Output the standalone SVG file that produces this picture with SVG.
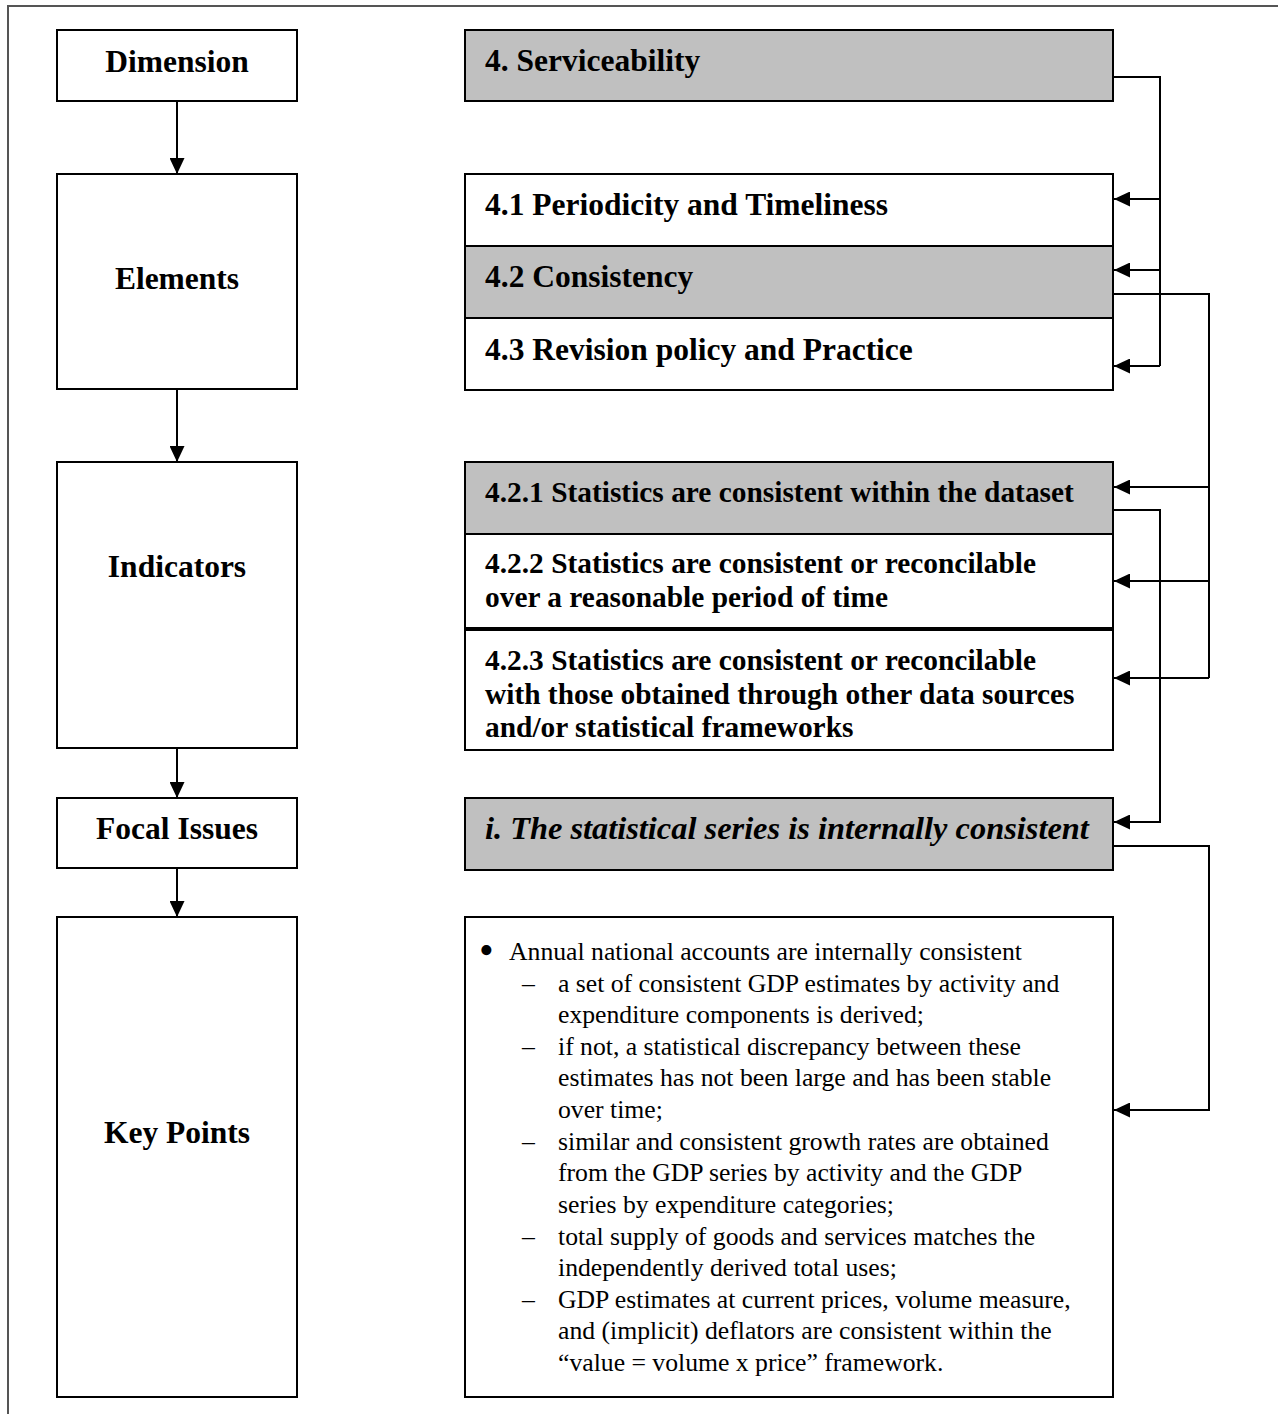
<svg xmlns="http://www.w3.org/2000/svg" width="1278" height="1414" viewBox="0 0 1278 1414">
<defs>
<style>
.box{fill:#fff;stroke:#000;stroke-width:2}
.gray{fill:#c0c0c0;stroke:#000;stroke-width:2}
.lbl{font-family:"Liberation Serif","Times New Roman",serif;font-weight:bold;font-size:31.5px;fill:#000;text-anchor:middle}
.t1{font-family:"Liberation Serif","Times New Roman",serif;font-weight:bold;font-size:31.5px;fill:#000}
.t2{font-family:"Liberation Serif","Times New Roman",serif;font-weight:bold;font-size:29.4px;fill:#000}
.ti{font-family:"Liberation Serif","Times New Roman",serif;font-weight:bold;font-style:italic;font-size:32.4px;fill:#000}
.kp{font-family:"Liberation Serif","Times New Roman",serif;font-size:25.7px;fill:#000}
.conn{fill:none;stroke:#000;stroke-width:2}
.frame{fill:none;stroke:#555;stroke-width:2}
</style>
<marker id="ah" markerWidth="16" markerHeight="15" refX="16" refY="7.5" orient="auto" markerUnits="userSpaceOnUse">
<path d="M0,0 L16,7.5 L0,15 z" fill="#000"/>
</marker>
</defs>
<rect width="1278" height="1414" fill="#fff"/>
<path class="frame" d="M8,1414 V6 H1278"/>

<g id="dimension"><rect class="box" x="57" y="30" width="240" height="71"/><text class="lbl" x="177" y="72">Dimension</text></g>
<g id="elements"><rect class="box" x="57" y="174" width="240" height="215"/><text class="lbl" x="177" y="289">Elements</text></g>
<g id="indicators"><rect class="box" x="57" y="462" width="240" height="286"/><text class="lbl" x="177" y="577">Indicators</text></g>
<g id="focal-issues"><rect class="box" x="57" y="798" width="240" height="70"/><text class="lbl" x="177" y="839">Focal Issues</text></g>
<g id="key-points"><rect class="box" x="57" y="917" width="240" height="480"/><text class="lbl" x="177" y="1143">Key Points</text></g>

<g id="serviceability"><rect class="gray" x="465" y="30" width="648" height="71"/><text class="t1" x="485" y="71">4. Serviceability</text></g>
<g id="e41"><rect class="box" x="465" y="174" width="648" height="72"/><text class="t1" x="485" y="215">4.1 Periodicity and Timeliness</text></g>
<g id="e42"><rect class="gray" x="465" y="246" width="648" height="72"/><text class="t1" x="485" y="287">4.2 Consistency</text></g>
<g id="e43"><rect class="box" x="465" y="318" width="648" height="72"/><text class="t1" x="485" y="360">4.3 Revision policy and Practice</text></g>

<g id="i421"><rect class="gray" x="465" y="462" width="648" height="72"/><text class="t2" x="485" y="502">4.2.1 Statistics are consistent within the dataset</text></g>
<g id="i422"><rect class="box" x="465" y="534" width="648" height="94"/><text class="t2" x="485" y="573">4.2.2 Statistics are consistent or reconcilable</text><text class="t2" x="485" y="607">over a reasonable period of time</text></g>
<g id="i423"><rect class="box" x="465" y="630" width="648" height="120"/><text class="t2" x="485" y="670">4.2.3 Statistics are consistent or reconcilable</text><text class="t2" x="485" y="704">with those obtained through other data sources</text><text class="t2" x="485" y="737">and/or statistical frameworks</text></g>

<g id="focal-i"><rect class="gray" x="465" y="798" width="648" height="72"/><text class="ti" x="485" y="839">i. The statistical series is internally consistent</text></g>

<g id="keypoints-text"><rect class="box" x="465" y="917" width="648" height="480"/>
<text class="kp"><tspan x="479" y="964" font-size="42">•</tspan><tspan x="509" y="960">Annual national accounts are internally consistent</tspan></text>
<text class="kp"><tspan x="522" y="992">–</tspan><tspan x="558" y="992">a set of consistent GDP estimates by activity and</tspan></text>
<text class="kp" x="558" y="1023">expenditure components is derived;</text>
<text class="kp"><tspan x="522" y="1055">–</tspan><tspan x="558" y="1055">if not, a statistical discrepancy between these</tspan></text>
<text class="kp" x="558" y="1086">estimates has not been large and has been stable</text>
<text class="kp" x="558" y="1118">over time;</text>
<text class="kp"><tspan x="522" y="1150">–</tspan><tspan x="558" y="1150">similar and consistent growth rates are obtained</tspan></text>
<text class="kp" x="558" y="1181">from the GDP series by activity and the GDP</text>
<text class="kp" x="558" y="1213">series by expenditure categories;</text>
<text class="kp"><tspan x="522" y="1245">–</tspan><tspan x="558" y="1245">total supply of goods and services matches the</tspan></text>
<text class="kp" x="558" y="1276">independently derived total uses;</text>
<text class="kp"><tspan x="522" y="1308">–</tspan><tspan x="558" y="1308">GDP estimates at current prices, volume measure,</tspan></text>
<text class="kp" x="558" y="1339">and (implicit) deflators are consistent within the</text>
<text class="kp" x="558" y="1371">“value = volume x price” framework.</text>
</g>

<g id="connectors">
<path class="conn" d="M177,101 V174" marker-end="url(#ah)"/>
<path class="conn" d="M177,389 V462" marker-end="url(#ah)"/>
<path class="conn" d="M177,748 V798" marker-end="url(#ah)"/>
<path class="conn" d="M177,868 V917" marker-end="url(#ah)"/>
<path class="conn" d="M1113,77 H1160 V366"/>
<path class="conn" d="M1160,199 H1114" marker-end="url(#ah)"/>
<path class="conn" d="M1160,270 H1114" marker-end="url(#ah)"/>
<path class="conn" d="M1160,366 H1114" marker-end="url(#ah)"/>
<path class="conn" d="M1113,294 H1209 V678"/>
<path class="conn" d="M1209,487 H1114" marker-end="url(#ah)"/>
<path class="conn" d="M1209,581 H1114" marker-end="url(#ah)"/>
<path class="conn" d="M1209,678 H1114" marker-end="url(#ah)"/>
<path class="conn" d="M1113,510 H1160 V822 H1114" marker-end="url(#ah)"/>
<path class="conn" d="M1113,846 H1209 V1110 H1114" marker-end="url(#ah)"/>
</g>
</svg>
